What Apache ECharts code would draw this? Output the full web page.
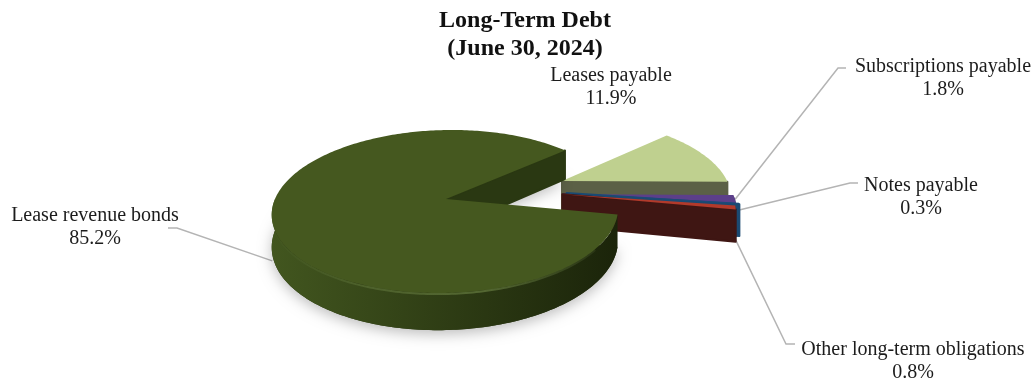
<!DOCTYPE html>
<html>
<head>
<meta charset="utf-8">
<style>html,body{margin:0;padding:0;background:#fff}#chart{width:1035px;height:381px}</style>
<script src="https://cdn.jsdelivr.net/npm/echarts@6/dist/echarts.min.js"></script>
</head>
<body>
<div id="chart"></div>
<script>
// Long-term debt composition, listed clockwise from the first slice's start angle.
const categories = ['Leases payable', 'Subscriptions payable', 'Notes payable', 'Other long-term obligations', 'Lease revenue bonds'];
const shares = [11.9, 1.8, 0.3, 0.8, 85.2];

// Exploded offset of each slice on the disc plane, in radii.
const explodeU = [0.693, 0.691, 0.711, 0.684, 0];
const explodeV = [-0.235, -0.060, -0.075, -0.060, 0];

// Face colours per slice.
const topColors = ['#bfd08f', '#5c3f8a', '#1d4a78', '#b23a2b', '#45581f'];
const cutColors = ['#5b6046', '#44306a', '#1b4a72', '#3f1613', '#2a3812'];
const wallLeft = ['#6a7050', '#44306a', '#1b4a72', '#3f1613', '#42561f'];
const wallRight = ['#55593f', '#44306a', '#1b4a72', '#3a1411', '#1b240a'];

// Label placement: text centre, leader elbow, leader end and how far down the wall it lands.
const labelCentre = [[611, 87], [943, 78], [921, 197], [913, 361], [95, 227]];
const leaderStart = [null, [846, 68], [858, 183], [795, 344], [168, 228]];
const leaderElbow = [null, [838, 68], [850, 183], [786, 344], [177, 228]];
const leaderDepth = [0, 0, 0.2, 1, 1.2];

// Perspective projection of the tilted disc.
const CX = 446, CY = 199, RX = 171, SKEW = -7, RY = 79.6, DEPTH = 31.5, PERSP = 0.153;
const START_ANGLE = 47.7;
const SERIF = '"Liberation Serif", "Times New Roman", serif';

function project(u, v, z) {
  const s = 1 / (1 - PERSP * v);
  return [CX + (RX * u + SKEW * v) * s, CY + (RY * v + DEPTH * z) * s];
}
const rad = (a) => a * Math.PI / 180;

// Point on a slice's disc, angle measured clockwise from the far side.
function rimPoint(i, angle, z) {
  return project(explodeU[i] + Math.sin(rad(angle)), explodeV[i] - Math.cos(rad(angle)), z);
}
function apexPoint(i, z) {
  return project(explodeU[i], explodeV[i], z);
}
function arc(i, from, to, z) {
  const pts = [];
  const n = Math.max(2, Math.ceil(Math.abs(to - from)));
  for (let k = 0; k <= n; k++) pts.push(rimPoint(i, from + (to - from) * k / n, z));
  return pts;
}
function linearX(left, right) {
  return new echarts.graphic.LinearGradient(0, 0, 1, 0, [
    { offset: 0, color: left }, { offset: 1, color: right }
  ]);
}
// Rim highlight: strongest on the near-left arc, fading out at both ends.
const rimGlow = new echarts.graphic.LinearGradient(0, 0, 1, 0, [
  { offset: 0, color: 'rgba(112,136,72,0.15)' },
  { offset: 0.35, color: 'rgba(112,136,72,0.6)' },
  { offset: 0.7, color: 'rgba(112,136,72,0.4)' },
  { offset: 1, color: 'rgba(112,136,72,0)' }
]);

function renderSlice(params, api) {
  const i = params.dataIndex;
  const value = api.value(0);
  let from = START_ANGLE;
  for (let k = 0; k < i; k++) from += shares[k] * 3.6;
  const to = from + value * 3.6;
  const children = [];
  const isMain = value > 50;

  // Soft shadow thrown by the large slice.
  if (isMain) {
    children.push({
      type: 'polygon',
      shape: { points: [apexPoint(i, 1)].concat(arc(i, from, to, 1)) },
      style: { fill: '#2a3612', shadowBlur: 14, shadowColor: 'rgba(0,0,0,0.26)', shadowOffsetY: 4 }
    });
  }

  // Outer wall, only the arc turned towards the viewer.
  const wallFrom = Math.max(from, 90);
  const wallTo = Math.min(to, 270);
  if (wallTo > wallFrom) {
    const upper = arc(i, wallFrom, wallTo, 0);
    const lower = arc(i, wallFrom, wallTo, 1).reverse();
    children.push({
      type: 'polygon',
      shape: { points: upper.concat(lower) },
      style: { fill: linearX(wallLeft[i], wallRight[i]) }
    });
  }

  // Radial cut at the clockwise end of the slice.
  children.push({
    type: 'polygon',
    shape: { points: [apexPoint(i, 0), rimPoint(i, to, 0), rimPoint(i, to, 1), apexPoint(i, 1)] },
    style: { fill: cutColors[i], stroke: cutColors[i], lineWidth: 2, lineJoin: 'round' }
  });

  // Top face.
  children.push({
    type: 'polygon',
    shape: { points: [apexPoint(i, 0)].concat(arc(i, from, to, 0)) },
    style: { fill: topColors[i] }
  });

  // Bevel highlight along the near rim of the large slice.
  if (isMain) {
    children.push({
      type: 'polyline',
      shape: { points: arc(i, 125, 262, 0.03) },
      style: { fill: 'none', stroke: rimGlow.colorStops ? new echarts.graphic.LinearGradient(1, 0, 0, 0, rimGlow.colorStops) : rimGlow, lineWidth: 2 }
    });
  }

  // Leader line and label.
  if (leaderStart[i]) {
    const mid = (from + to) / 2 % 360;
    children.push({
      type: 'polyline',
      shape: { points: [leaderStart[i], leaderElbow[i], rimPoint(i, mid, leaderDepth[i])] },
      style: { fill: 'none', stroke: '#b4b4b4', lineWidth: 1.5 },
      z2: -1
    });
  }
  children.push({
    type: 'text',
    style: {
      x: labelCentre[i][0], y: labelCentre[i][1],
      text: categories[i] + '\n' + value.toFixed(1) + '%',
      align: 'center', verticalAlign: 'middle',
      fontFamily: SERIF, fontSize: 20, lineHeight: 23, fill: '#1c1c1c'
    }
  });
  return { type: 'group', children };
}

const chart = echarts.init(document.getElementById('chart'), null, { renderer: 'canvas' });
chart.setOption({
  backgroundColor: '#fff',
  animation: false,
  title: {
    text: 'Long-Term Debt\n(June 30, 2024)',
    left: 520, top: 2, textAlign: 'center',
    textStyle: { fontFamily: SERIF, fontWeight: 'bold', fontSize: 24, lineHeight: 28, color: '#111' }
  },
  series: [{
    type: 'custom',
    coordinateSystem: 'none',
    silent: true,
    data: shares.map((v) => [v]),
    renderItem: renderSlice
  }]
});
</script>
</body>
</html>
